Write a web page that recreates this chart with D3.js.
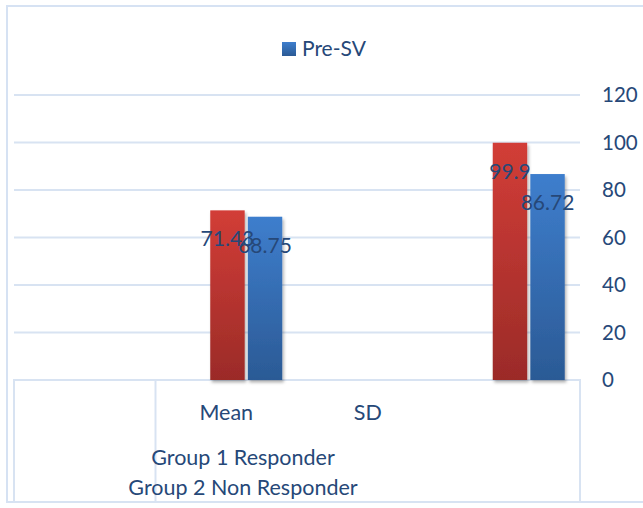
<!DOCTYPE html>
<html>
<head>
<meta charset="utf-8">
<script src="https://cdn.jsdelivr.net/npm/d3@7"></script>
<style>
  html, body { margin: 0; padding: 0; background: #ffffff; }
  svg { display: block; }
  text { font-family: Lato, "Open Sans", sans-serif; fill: #264878; }
</style>
</head>
<body>
<svg id="chart" width="643" height="508"></svg>
<script>
// Bar groups and values
const categories = ["Mean", "SD"];
const groupRed = [71.43, 99.9];
const groupBlue = [68.75, 86.72];
const seriesNames = ["Group 1", "Group 2"];

// Category axis labels (first level has an empty leading and trailing slot)
const axisSlots = ["", "Mean", "SD", ""];
const groupLabels = ["Group 1 Responder", "Group 2 Non Responder"];
const legendLabel = "Pre-SV";
const yTicks = [0, 20, 40, 60, 80, 100, 120];

const svg = d3.select("#chart");

const plot = { left: 14, right: 580, top: 95, bottom: 380 };

const y = d3.scaleLinear().domain([0, 120]).range([plot.bottom, plot.top]);

// Bar pairs laid out on a band scale offset within the plot
const x = d3.scaleBand().domain(categories).range([105, 670]).paddingInner(0).paddingOuter(0);
const xs = d3.scaleBand().domain(seriesNames).range([0, 72]).paddingInner(6 / 72);

// Axis label slots
const xl = d3.scaleBand().domain(axisSlots.map((d, i) => i)).range([plot.left, plot.right]);

const defs = svg.append("defs");
const gradRed = defs.append("linearGradient").attr("id", "gRed").attr("x1", 0).attr("y1", 0).attr("x2", 0).attr("y2", 1);
gradRed.append("stop").attr("offset", "0%").attr("stop-color", "#d23d37");
gradRed.append("stop").attr("offset", "100%").attr("stop-color", "#9b2b28");
const gradBlue = defs.append("linearGradient").attr("id", "gBlue").attr("x1", 0).attr("y1", 0).attr("x2", 0).attr("y2", 1);
gradBlue.append("stop").attr("offset", "0%").attr("stop-color", "#3e7ecd");
gradBlue.append("stop").attr("offset", "100%").attr("stop-color", "#2b5a95");
const shadow = defs.append("filter").attr("id", "shadow").attr("x", "-30%").attr("y", "-10%").attr("width", "160%").attr("height", "130%");
shadow.append("feDropShadow").attr("dx", 1.5).attr("dy", 2.5).attr("stdDeviation", 1.8)
  .attr("flood-color", "#000").attr("flood-opacity", 0.3);

// Outer frame
svg.append("rect").attr("x", 7).attr("y", 6).attr("width", 700).attr("height", 496)
  .attr("fill", "none").attr("stroke", "#d6e2f3").attr("stroke-width", 2);

// Gridlines
svg.append("g").selectAll("line").data(yTicks.filter(d => d > 0)).join("line")
  .attr("x1", plot.left).attr("x2", plot.right)
  .attr("y1", d => y(d)).attr("y2", d => y(d))
  .attr("stroke", "#d8e3f2").attr("stroke-width", 2);

// Right-side value axis
const yAxis = d3.axisRight(y).tickValues(yTicks).tickSize(0).tickPadding(0);
const ya = svg.append("g").attr("transform", `translate(602,0)`).call(yAxis);
ya.select(".domain").remove();
ya.selectAll("text").attr("x", 0).attr("text-anchor", "start")
  .style("font-size", "20.5px").style("font-family", "Lato, 'Open Sans', sans-serif").attr("fill", "#264878");

// Category table below the plot
const tbl = svg.append("g").attr("stroke", "#d8e3f2").attr("stroke-width", 2).attr("fill", "none");
tbl.append("rect").attr("x", plot.left).attr("y", plot.bottom).attr("width", plot.right - plot.left).attr("height", 502 - plot.bottom);
tbl.append("line").attr("x1", xl(1)).attr("x2", xl(1)).attr("y1", plot.bottom).attr("y2", 502);

// Bars
const rows = categories.map((c, i) => ({ c, vals: [groupRed[i], groupBlue[i]] }));
const fills = ["url(#gRed)", "url(#gBlue)"];
const gBars = svg.append("g");
rows.forEach(r => {
  r.vals.forEach((v, j) => {
    const bx = x(r.c) + x.bandwidth() / 2 - 36 + xs(seriesNames[j]);
    gBars.append("rect")
      .attr("x", bx).attr("y", y(v))
      .attr("width", xs.bandwidth()).attr("height", y(0) - y(v))
      .attr("fill", fills[j]).attr("filter", "url(#shadow)");
  });
});

// Value labels inside the top of each bar
rows.forEach(r => {
  r.vals.forEach((v, j) => {
    const cx = x(r.c) + x.bandwidth() / 2 - 36 + xs(seriesNames[j]) + xs.bandwidth() / 2;
    svg.append("text")
      .attr("x", cx).attr("y", y(v) + 36)
      .attr("text-anchor", "middle")
      .style("font-size", "21px")
      .text(v);
  });
});

// First-level category labels
svg.append("g").selectAll("text").data(axisSlots.map((d, i) => ({ d, i })).filter(o => o.d)).join("text")
  .attr("x", o => xl(o.i) + xl.bandwidth() / 2).attr("y", 420)
  .attr("text-anchor", "middle").style("font-size", "21.5px")
  .text(o => o.d);

// Group labels
svg.append("g").selectAll("text").data(groupLabels).join("text")
  .attr("x", 243).attr("y", (d, i) => 465 + i * 30)
  .attr("text-anchor", "middle").style("font-size", "21.5px")
  .text(d => d);

// Legend
const lg = svg.append("g");
lg.append("rect").attr("x", 282).attr("y", 42).attr("width", 14).attr("height", 14).attr("fill", "url(#gBlue)");
lg.append("text").attr("x", 302).attr("y", 56).style("font-size", "21px").text(legendLabel);
</script>
</body>
</html>
